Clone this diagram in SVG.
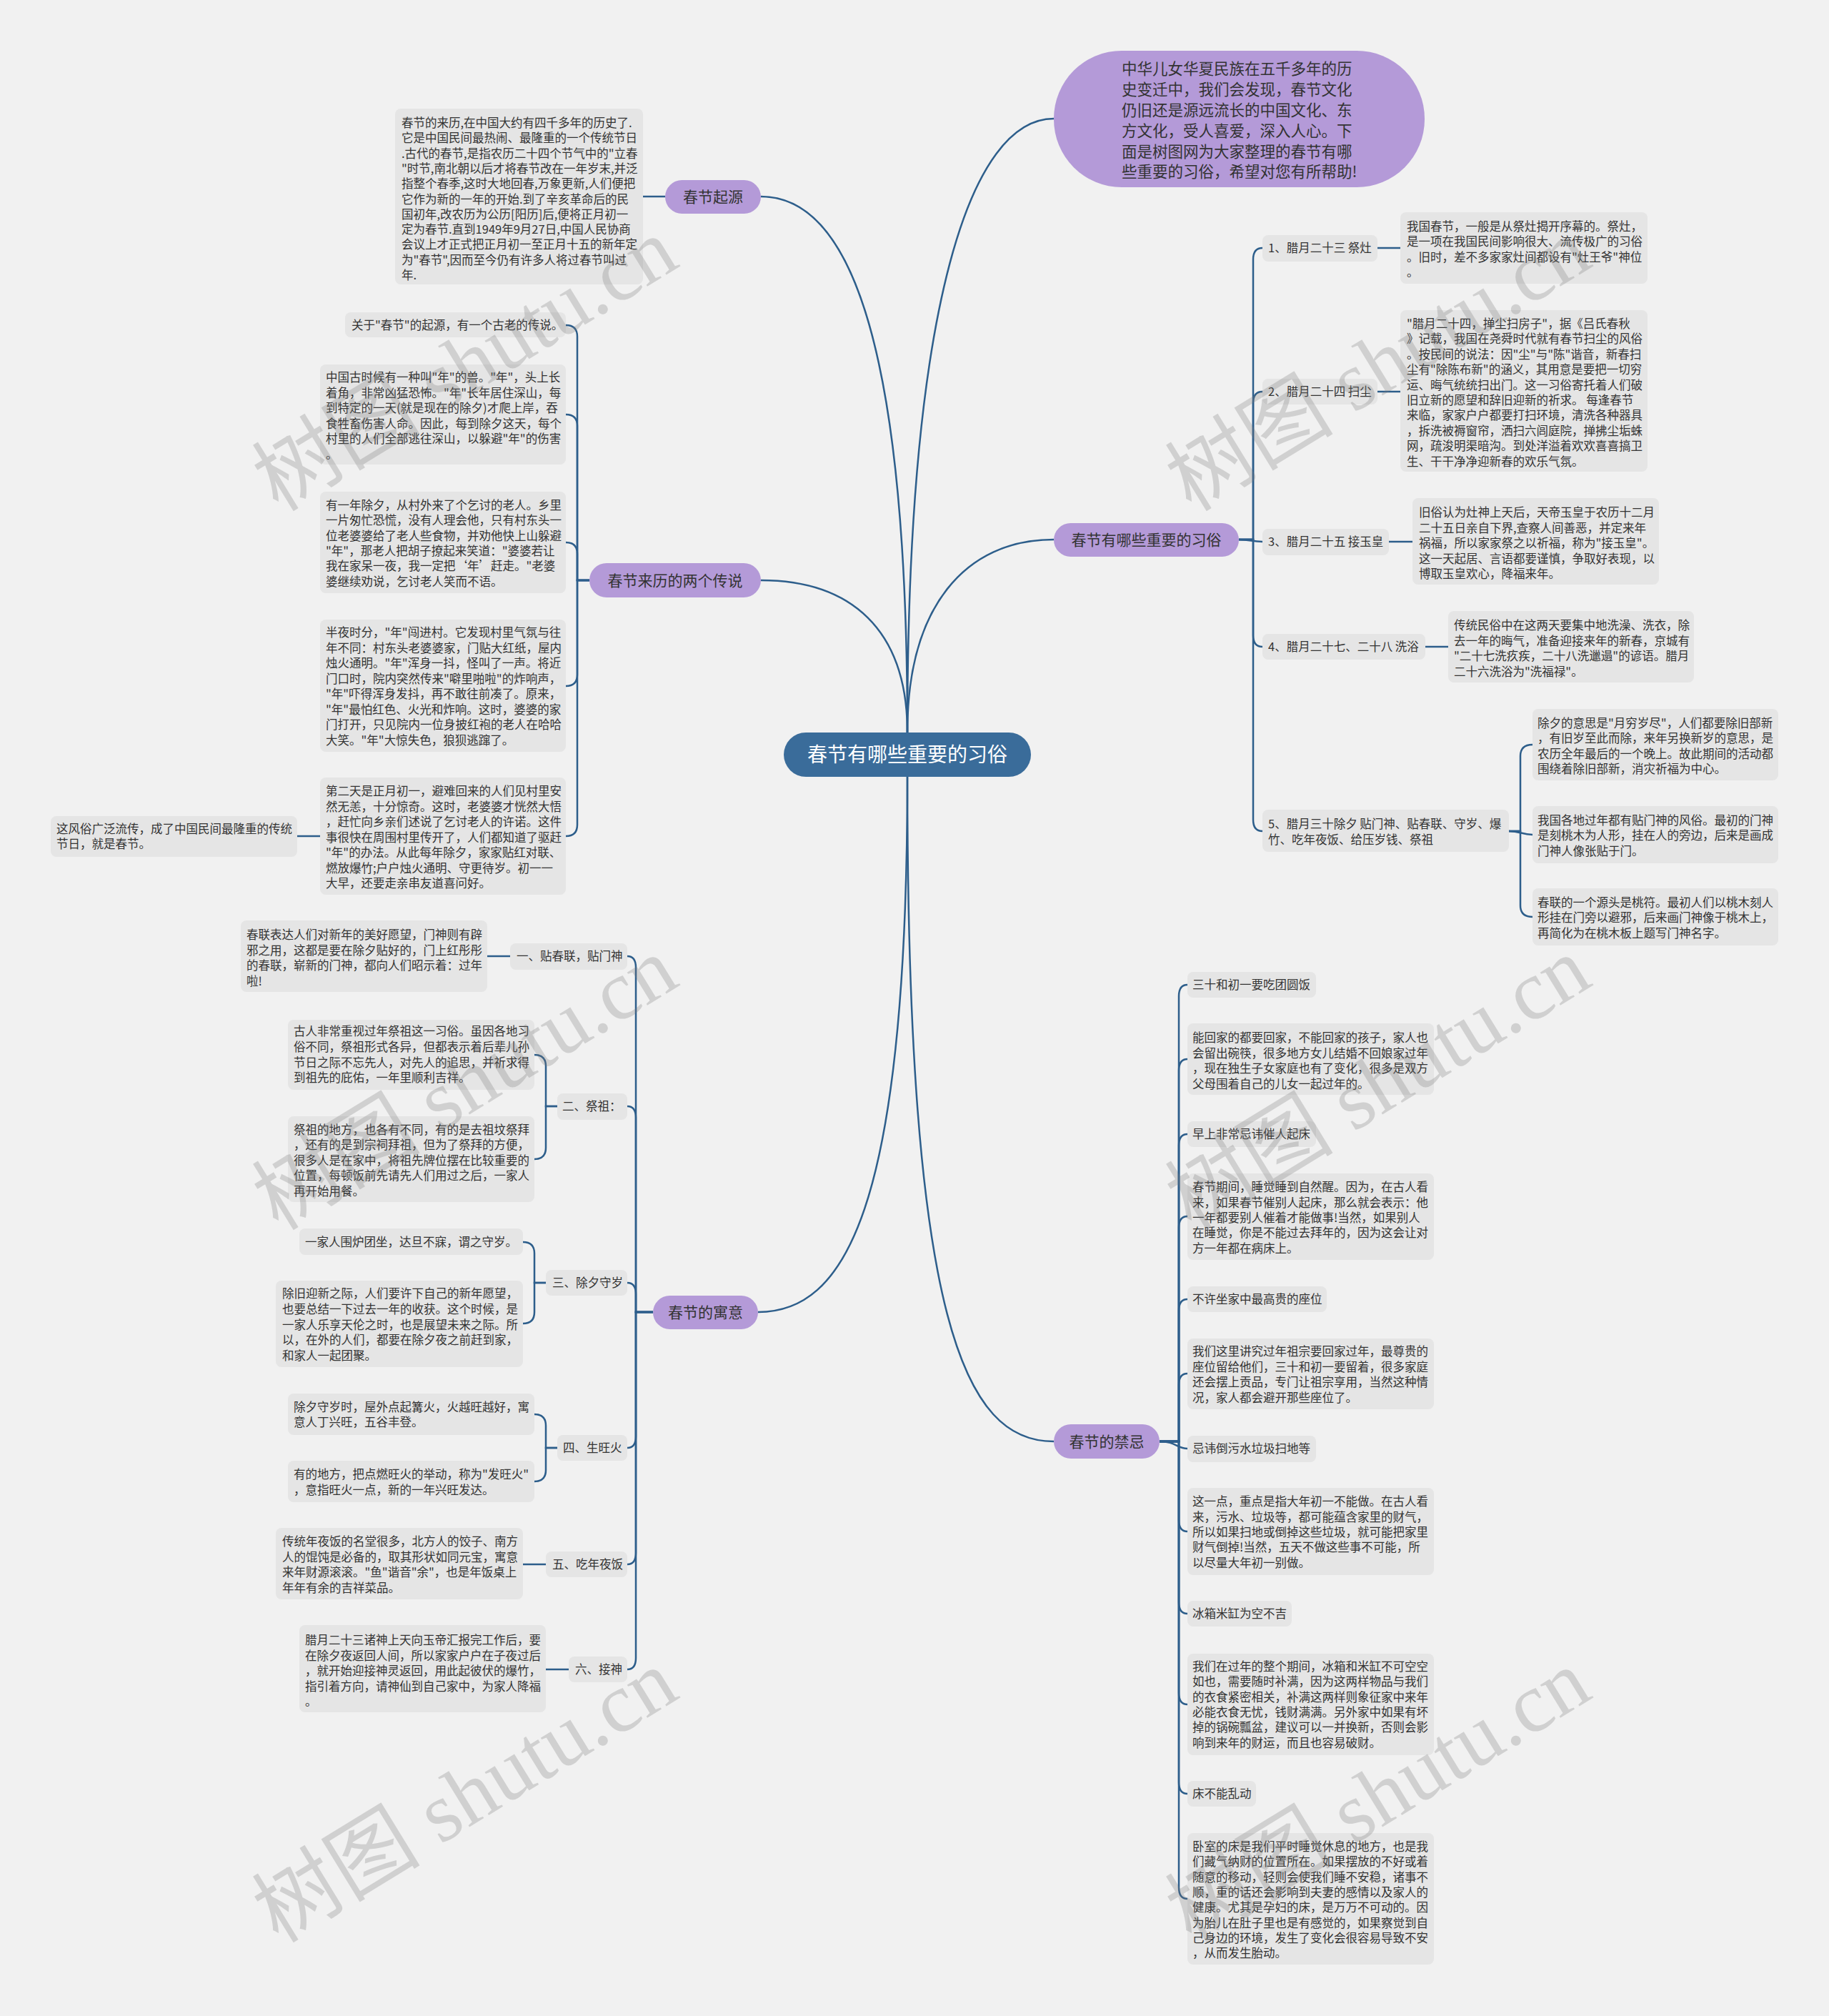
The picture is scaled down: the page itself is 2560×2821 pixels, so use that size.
<svg xmlns="http://www.w3.org/2000/svg" width="2560" height="2821" viewBox="0 0 2560 2821">
<style>
.t{font-family:'Noto Sans CJK SC','Noto Sans',sans-serif;font-size:16.5px;fill:#333}
.box{fill:#e5e5e5}
.br{fill:#b49ad8}
.bt{font-family:'Noto Sans CJK SC','Noto Sans',sans-serif;font-size:21px;fill:#333;text-anchor:middle}
.c{fill:none;stroke:#2d5e8b;stroke-width:2.5}
.wm{font-family:'Liberation Serif','Noto Sans CJK SC',serif;font-size:118px;fill:#7a7a7a;opacity:0.27;text-anchor:middle}
</style>
<rect x="0" y="0" width="2560" height="2821" fill="#f1f1f1"/>
<g id="connectors">
<path class="c" d="M1270,1025 C1270,420 1360,166 1475,166"/>
<path class="c" d="M1270,1025 C1270,450 1180,275 1065,275"/>
<path class="c" d="M1270,1025 C1270,880 1190,812 1065,812"/>
<path class="c" d="M1270,1025 C1270,850 1350,755 1475,755"/>
<path class="c" d="M1270,1087 C1270,1700 1180,1836 1061,1836"/>
<path class="c" d="M1270,1087 C1270,1850 1350,2017 1475,2017"/>
<path class="c" d="M900,275 H931"/>
<path class="c" d="M825,812 H808 V471 Q808,455 792,455"/>
<path class="c" d="M825,812 H808 V596 Q808,580 792,580"/>
<path class="c" d="M825,812 H808 V775 Q808,759 792,759"/>
<path class="c" d="M825,812 H808 V944 Q808,960 792,960"/>
<path class="c" d="M825,812 H808 V1154 Q808,1170 792,1170"/>
<path class="c" d="M448,1170 H416"/>
<path class="c" d="M914,1836 H890 V1354 Q890,1338 878,1338"/>
<path class="c" d="M914,1836 H890 V1564 Q890,1548 878,1548"/>
<path class="c" d="M914,1836 H890 V1811 Q890,1795 878,1795"/>
<path class="c" d="M914,1836 H890 V2010 Q890,2026 878,2026"/>
<path class="c" d="M914,1836 H890 V2173 Q890,2189 878,2189"/>
<path class="c" d="M914,1836 H890 V2320 Q890,2336 878,2336"/>
<path class="c" d="M714,1338 H682"/>
<path class="c" d="M780,1548 H764 V1492 Q764,1476 748,1476"/>
<path class="c" d="M780,1548 H764 V1606 Q764,1622 748,1622"/>
<path class="c" d="M764,1795 H748 V1754 Q748,1738 732,1738"/>
<path class="c" d="M764,1795 H748 V1836 Q748,1852 732,1852"/>
<path class="c" d="M780,2026 H764 V1995 Q764,1979 748,1979"/>
<path class="c" d="M780,2026 H764 V2057 Q764,2073 748,2073"/>
<path class="c" d="M764,2189 H732"/>
<path class="c" d="M796,2336 H764"/>
<path class="c" d="M1734,755 H1754 V363 Q1754,347 1767,347"/>
<path class="c" d="M1734,755 H1754 V564 Q1754,548 1767,548"/>
<path class="c" d="M1734,755 C1750,755 1752,758 1767,758"/>
<path class="c" d="M1734,755 H1754 V889 Q1754,905 1767,905"/>
<path class="c" d="M1734,755 H1754 V1147 Q1754,1163 1767,1163"/>
<path class="c" d="M1928,347 H1960"/>
<path class="c" d="M1928,548 H1960"/>
<path class="c" d="M1944,758 H1977"/>
<path class="c" d="M1995,905 H2027"/>
<path class="c" d="M2112,1163 H2128 V1058 Q2128,1042 2145,1042"/>
<path class="c" d="M2112,1163 C2128,1163 2130,1168 2145,1168"/>
<path class="c" d="M2112,1163 H2128 V1267 Q2128,1283 2145,1283"/>
<path class="c" d="M1623,2017 H1650 V1394 Q1650,1378 1662,1378"/>
<path class="c" d="M1623,2017 H1650 V1498 Q1650,1482 1662,1482"/>
<path class="c" d="M1623,2017 H1650 V1603 Q1650,1587 1662,1587"/>
<path class="c" d="M1623,2017 H1650 V1718 Q1650,1702 1662,1702"/>
<path class="c" d="M1623,2017 H1650 V1834 Q1650,1818 1662,1818"/>
<path class="c" d="M1623,2017 H1650 V1938 Q1650,1922 1662,1922"/>
<path class="c" d="M1623,2017 C1645,2017 1648,2027 1662,2027"/>
<path class="c" d="M1623,2017 H1650 V2127 Q1650,2143 1662,2143"/>
<path class="c" d="M1623,2017 H1650 V2242 Q1650,2258 1662,2258"/>
<path class="c" d="M1623,2017 H1650 V2369 Q1650,2385 1662,2385"/>
<path class="c" d="M1623,2017 H1650 V2494 Q1650,2510 1662,2510"/>
<path class="c" d="M1623,2017 H1650 V2641 Q1650,2657 1662,2657"/>
</g>

<g id="n-root"><rect x="1097" y="1025" width="346" height="62" rx="31" fill="#3a6c9a"/><text x="1270" y="1066" style="font-family:'Noto Sans CJK SC',sans-serif;font-size:28px;fill:#fff;text-anchor:middle">春节有哪些重要的习俗</text></g>

<g id="n-intro"><rect x="1475" y="71" width="519" height="191" rx="95" class="br"/>
<text style="font-family:'Noto Sans CJK SC',sans-serif;font-size:21.5px;fill:#333"><tspan x="1570" y="104">中华儿女华夏民族在五千多年的历</tspan><tspan x="1570" y="133">史变迁中，我们会发现，春节文化</tspan><tspan x="1570" y="162">仍旧还是源远流长的中国文化、东</tspan><tspan x="1570" y="191">方文化，受人喜爱，深入人心。下</tspan><tspan x="1570" y="220">面是树图网为大家整理的春节有哪</tspan><tspan x="1570" y="248">些重要的习俗，希望对您有所帮助!</tspan></text></g>

<g id="n-origin"><rect x="931" y="252" width="134" height="47" rx="23.5" class="br"/><text x="998" y="283" class="bt">春节起源</text></g>
<g id="n-origin-1"><rect x="553" y="152" width="347" height="246" rx="8" class="box"/>
<text class="t"><tspan x="562" y="178">春节的来历,在中国大约有四千多年的历史了.</tspan><tspan x="562" y="199">它是中国民间最热闹、最隆重的一个传统节日</tspan><tspan x="562" y="221">.古代的春节,是指农历二十四个节气中的"立春</tspan><tspan x="562" y="242">"时节,南北朝以后才将春节改在一年岁末,并泛</tspan><tspan x="562" y="263">指整个春季,这时大地回春,万象更新,人们便把</tspan><tspan x="562" y="285">它作为新的一年的开始.到了辛亥革命后的民</tspan><tspan x="562" y="306">国初年,改农历为公历[阳历]后,便将正月初一</tspan><tspan x="562" y="327">定为春节.直到1949年9月27日,中国人民协商</tspan><tspan x="562" y="348">会议上才正式把正月初一至正月十五的新年定</tspan><tspan x="562" y="370">为"春节",因而至今仍有许多人将过春节叫过</tspan><tspan x="562" y="391">年.</tspan></text></g>

<g id="n-legend"><rect x="825" y="788" width="240" height="48" rx="24" class="br"/><text x="945" y="820" class="bt">春节来历的两个传说</text></g>
<g id="n-legend-1"><rect x="483" y="437" width="309" height="35" rx="8" class="box"/><text class="t" x="492" y="461">关于"春节"的起源，有一个古老的传说。</text></g>
<g id="n-legend-2"><rect x="448" y="510" width="344" height="140" rx="8" class="box"/>
<text class="t"><tspan x="456" y="534">中国古时候有一种叫"年"的兽。"年"，头上长</tspan><tspan x="456" y="556">着角，非常凶猛恐怖。"年"长年居住深山，每</tspan><tspan x="456" y="577">到特定的一天(就是现在的除夕)才爬上岸，吞</tspan><tspan x="456" y="599">食牲畜伤害人命。因此，每到除夕这天，每个</tspan><tspan x="456" y="620">村里的人们全部逃往深山，以躲避"年"的伤害</tspan><tspan x="456" y="642">。</tspan></text></g>
<g id="n-legend-3"><rect x="448" y="688" width="344" height="142" rx="8" class="box"/>
<text class="t"><tspan x="456" y="713">有一年除夕，从村外来了个乞讨的老人。乡里</tspan><tspan x="456" y="734">一片匆忙恐慌，没有人理会他，只有村东头一</tspan><tspan x="456" y="756">位老婆婆给了老人些食物，并劝他快上山躲避</tspan><tspan x="456" y="777">"年"，那老人把胡子撩起来笑道："婆婆若让</tspan><tspan x="456" y="798">我在家呆一夜，我一定把‘年’赶走。"老婆</tspan><tspan x="456" y="820">婆继续劝说，乞讨老人笑而不语。</tspan></text></g>
<g id="n-legend-4"><rect x="448" y="867" width="344" height="185" rx="8" class="box"/>
<text class="t"><tspan x="456" y="891">半夜时分，"年"闯进村。它发现村里气氛与往</tspan><tspan x="456" y="913">年不同：村东头老婆婆家，门贴大红纸，屋内</tspan><tspan x="456" y="934">烛火通明。"年"浑身一抖，怪叫了一声。将近</tspan><tspan x="456" y="956">门口时，院内突然传来"噼里啪啦"的炸响声，</tspan><tspan x="456" y="977">"年"吓得浑身发抖，再不敢往前凑了。原来，</tspan><tspan x="456" y="999">"年"最怕红色、火光和炸响。这时，婆婆的家</tspan><tspan x="456" y="1020">门打开，只见院内一位身披红袍的老人在哈哈</tspan><tspan x="456" y="1042">大笑。"年"大惊失色，狼狈逃蹿了。</tspan></text></g>
<g id="n-legend-5"><rect x="448" y="1088" width="344" height="164" rx="8" class="box"/>
<text class="t"><tspan x="456" y="1113">第二天是正月初一，避难回来的人们见村里安</tspan><tspan x="456" y="1135">然无恙，十分惊奇。这时，老婆婆才恍然大悟</tspan><tspan x="456" y="1156">，赶忙向乡亲们述说了乞讨老人的许诺。这件</tspan><tspan x="456" y="1178">事很快在周围村里传开了，人们都知道了驱赶</tspan><tspan x="456" y="1199">"年"的办法。从此每年除夕，家家贴红对联、</tspan><tspan x="456" y="1221">燃放爆竹;户户烛火通明、守更待岁。初一一</tspan><tspan x="456" y="1242">大早，还要走亲串友道喜问好。</tspan></text></g>
<g id="n-legend-6"><rect x="71" y="1142" width="345" height="57" rx="8" class="box"/>
<text class="t"><tspan x="79" y="1166">这风俗广泛流传，成了中国民间最隆重的传统</tspan><tspan x="79" y="1187">节日，就是春节。</tspan></text></g>

<g id="n-meaning"><rect x="914" y="1813" width="147" height="47" rx="23.5" class="br"/><text x="987.5" y="1844" class="bt">春节的寓意</text></g>
<g id="n-m1"><rect x="714" y="1320" width="164" height="37" rx="8" class="box"/><text class="t" x="723" y="1344">一、贴春联，贴门神</text></g>
<g id="n-m1-1"><rect x="337" y="1288" width="345" height="100" rx="8" class="box"/>
<text class="t"><tspan x="345" y="1314">春联表达人们对新年的美好愿望，门神则有辟</tspan><tspan x="345" y="1336">邪之用，这都是要在除夕贴好的，门上红彤彤</tspan><tspan x="345" y="1357">的春联，崭新的门神，都向人们昭示着：过年</tspan><tspan x="345" y="1379">啦!</tspan></text></g>
<g id="n-m2"><rect x="780" y="1530" width="98" height="37" rx="8" class="box"/><text class="t" x="787" y="1554">二、祭祖：</text></g>
<g id="n-m2-1"><rect x="403" y="1427" width="345" height="98" rx="8" class="box"/>
<text class="t"><tspan x="411" y="1449">古人非常重视过年祭祖这一习俗。虽因各地习</tspan><tspan x="411" y="1471">俗不同，祭祖形式各异，但都表示着后辈儿孙</tspan><tspan x="411" y="1493">节日之际不忘先人，对先人的追思，并祈求得</tspan><tspan x="411" y="1514">到祖先的庇佑，一年里顺利吉祥。</tspan></text></g>
<g id="n-m2-2"><rect x="403" y="1562" width="345" height="120" rx="8" class="box"/>
<text class="t"><tspan x="411" y="1587">祭祖的地方，也各有不同，有的是去祖坟祭拜</tspan><tspan x="411" y="1608">，还有的是到宗祠拜祖，但为了祭拜的方便，</tspan><tspan x="411" y="1630">很多人是在家中，将祖先牌位摆在比较重要的</tspan><tspan x="411" y="1651">位置，每顿饭前先请先人们用过之后，一家人</tspan><tspan x="411" y="1673">再开始用餐。</tspan></text></g>
<g id="n-m3"><rect x="764" y="1777" width="114" height="36" rx="8" class="box"/><text class="t" x="773" y="1801">三、除夕守岁</text></g>
<g id="n-m3-1"><rect x="419" y="1719" width="313" height="37" rx="8" class="box"/><text class="t" x="427" y="1744">一家人围炉团坐，达旦不寐，谓之守岁。</text></g>
<g id="n-m3-2"><rect x="386" y="1792" width="346" height="121" rx="8" class="box"/>
<text class="t"><tspan x="395" y="1816">除旧迎新之际，人们要许下自己的新年愿望，</tspan><tspan x="395" y="1838">也要总结一下过去一年的收获。这个时候，是</tspan><tspan x="395" y="1860">一家人乐享天伦之时，也是展望未来之际。所</tspan><tspan x="395" y="1881">以，在外的人们，都要在除夕夜之前赶到家，</tspan><tspan x="395" y="1903">和家人一起团聚。</tspan></text></g>
<g id="n-m4"><rect x="780" y="2008" width="98" height="36" rx="8" class="box"/><text class="t" x="788" y="2032">四、生旺火</text></g>
<g id="n-m4-1"><rect x="403" y="1950" width="345" height="58" rx="8" class="box"/>
<text class="t"><tspan x="411" y="1975">除夕守岁时，屋外点起篝火，火越旺越好，寓</tspan><tspan x="411" y="1996">意人丁兴旺，五谷丰登。</tspan></text></g>
<g id="n-m4-2"><rect x="403" y="2044" width="345" height="58" rx="8" class="box"/>
<text class="t"><tspan x="411" y="2069">有的地方，把点燃旺火的举动，称为"发旺火"</tspan><tspan x="411" y="2091">，意指旺火一点，新的一年兴旺发达。</tspan></text></g>
<g id="n-m5"><rect x="764" y="2171" width="114" height="36" rx="8" class="box"/><text class="t" x="773" y="2195">五、吃年夜饭</text></g>
<g id="n-m5-1"><rect x="386" y="2138" width="346" height="100" rx="8" class="box"/>
<text class="t"><tspan x="395" y="2163">传统年夜饭的名堂很多，北方人的饺子、南方</tspan><tspan x="395" y="2185">人的馄饨是必备的，取其形状如同元宝，寓意</tspan><tspan x="395" y="2206">来年财源滚滚。"鱼"谐音"余"，也是年饭桌上</tspan><tspan x="395" y="2228">年年有余的吉祥菜品。</tspan></text></g>
<g id="n-m6"><rect x="796" y="2318" width="82" height="36" rx="8" class="box"/><text class="t" x="805" y="2342">六、接神</text></g>
<g id="n-m6-1"><rect x="419" y="2274" width="345" height="122" rx="8" class="box"/>
<text class="t"><tspan x="427" y="2301">腊月二十三诸神上天向玉帝汇报完工作后，要</tspan><tspan x="427" y="2323">在除夕夜返回人间，所以家家户户在子夜过后</tspan><tspan x="427" y="2344">，就开始迎接神灵返回，用此起彼伏的爆竹，</tspan><tspan x="427" y="2366">指引着方向，请神仙到自己家中，为家人降福</tspan><tspan x="427" y="2387">。</tspan></text></g>

<g id="n-customs"><rect x="1475" y="732" width="259" height="47" rx="23.5" class="br"/><text x="1604.5" y="763" class="bt">春节有哪些重要的习俗</text></g>
<g id="n-c1"><rect x="1767" y="329" width="161" height="37" rx="8" class="box"/><text class="t" x="1775" y="353">1、腊月二十三 祭灶</text></g>
<g id="n-c1-1"><rect x="1960" y="297" width="346" height="100" rx="8" class="box"/>
<text class="t"><tspan x="1969" y="323">我国春节，一般是从祭灶揭开序幕的。祭灶，</tspan><tspan x="1969" y="344">是一项在我国民间影响很大、流传极广的习俗</tspan><tspan x="1969" y="366">。旧时，差不多家家灶间都设有"灶王爷"神位</tspan><tspan x="1969" y="387">。</tspan></text></g>
<g id="n-c2"><rect x="1767" y="530" width="161" height="36" rx="8" class="box"/><text class="t" x="1775" y="554">2、腊月二十四 扫尘</text></g>
<g id="n-c2-1"><rect x="1960" y="434" width="346" height="226" rx="8" class="box"/>
<text class="t"><tspan x="1969" y="459">"腊月二十四，掸尘扫房子"，据《吕氏春秋</tspan><tspan x="1969" y="480">》记载，我国在尧舜时代就有春节扫尘的风俗</tspan><tspan x="1969" y="502">。按民间的说法：因"尘"与"陈"谐音，新春扫</tspan><tspan x="1969" y="523">尘有"除陈布新"的涵义，其用意是要把一切穷</tspan><tspan x="1969" y="545">运、晦气统统扫出门。这一习俗寄托着人们破</tspan><tspan x="1969" y="566">旧立新的愿望和辞旧迎新的祈求。 每逢春节</tspan><tspan x="1969" y="587">来临，家家户户都要打扫环境，清洗各种器具</tspan><tspan x="1969" y="609">，拆洗被褥窗帘，洒扫六闾庭院，掸拂尘垢蛛</tspan><tspan x="1969" y="630">网，疏浚明渠暗沟。到处洋溢着欢欢喜喜搞卫</tspan><tspan x="1969" y="652">生、干干净净迎新春的欢乐气氛。</tspan></text></g>
<g id="n-c3"><rect x="1767" y="740" width="177" height="37" rx="8" class="box"/><text class="t" x="1775" y="764">3、腊月二十五 接玉皇</text></g>
<g id="n-c3-1"><rect x="1977" y="697" width="345" height="121" rx="8" class="box"/>
<text class="t"><tspan x="1986" y="723">旧俗认为灶神上天后，天帝玉皇于农历十二月</tspan><tspan x="1986" y="745">二十五日亲自下界,查察人间善恶，并定来年</tspan><tspan x="1986" y="766">祸福，所以家家祭之以祈福，称为"接玉皇"。</tspan><tspan x="1986" y="788">这一天起居、言语都要谨慎，争取好表现，以</tspan><tspan x="1986" y="809">博取玉皇欢心，降福来年。</tspan></text></g>
<g id="n-c4"><rect x="1767" y="887" width="228" height="36" rx="8" class="box"/><text class="t" x="1775" y="911">4、腊月二十七、二十八 洗浴</text></g>
<g id="n-c4-1"><rect x="2027" y="855" width="344" height="100" rx="8" class="box"/>
<text class="t"><tspan x="2035" y="881">传统民俗中在这两天要集中地洗澡、洗衣，除</tspan><tspan x="2035" y="903">去一年的晦气，准备迎接来年的新春，京城有</tspan><tspan x="2035" y="924">"二十七洗疚疾，二十八洗邋遢"的谚语。腊月</tspan><tspan x="2035" y="946">二十六洗浴为"洗福禄"。</tspan></text></g>
<g id="n-c5"><rect x="1767" y="1133" width="345" height="59" rx="8" class="box"/>
<text class="t"><tspan x="1775" y="1159">5、腊月三十除夕 贴门神、贴春联、守岁、爆</tspan><tspan x="1775" y="1181">竹、吃年夜饭、给压岁钱、祭祖</tspan></text></g>
<g id="n-c5-1"><rect x="2145" y="992" width="344" height="100" rx="8" class="box"/>
<text class="t"><tspan x="2152" y="1018">除夕的意思是"月穷岁尽"，人们都要除旧部新</tspan><tspan x="2152" y="1039">，有旧岁至此而除，来年另换新岁的意思，是</tspan><tspan x="2152" y="1061">农历全年最后的一个晚上。故此期间的活动都</tspan><tspan x="2152" y="1082">围绕着除旧部新，消灾祈福为中心。</tspan></text></g>
<g id="n-c5-2"><rect x="2145" y="1128" width="344" height="80" rx="8" class="box"/>
<text class="t"><tspan x="2152" y="1154">我国各地过年都有贴门神的风俗。最初的门神</tspan><tspan x="2152" y="1175">是刻桃木为人形，挂在人的旁边，后来是画成</tspan><tspan x="2152" y="1197">门神人像张贴于门。</tspan></text></g>
<g id="n-c5-3"><rect x="2145" y="1243" width="344" height="80" rx="8" class="box"/>
<text class="t"><tspan x="2152" y="1269">春联的一个源头是桃符。最初人们以桃木刻人</tspan><tspan x="2152" y="1290">形挂在门旁以避邪，后来画门神像于桃木上，</tspan><tspan x="2152" y="1312">再简化为在桃木板上题写门神名字。</tspan></text></g>

<g id="n-taboo"><rect x="1475" y="1993" width="148" height="48" rx="24" class="br"/><text x="1549" y="2025" class="bt">春节的禁忌</text></g>
<g id="n-t1"><rect x="1662" y="1360" width="180" height="36" rx="8" class="box"/><text class="t" x="1669" y="1384">三十和初一要吃团圆饭</text></g>
<g id="n-t1-1"><rect x="1662" y="1432" width="345" height="100" rx="8" class="box"/>
<text class="t"><tspan x="1669" y="1458">能回家的都要回家，不能回家的孩子，家人也</tspan><tspan x="1669" y="1480">会留出碗筷，很多地方女儿结婚不回娘家过年</tspan><tspan x="1669" y="1501">，现在独生子女家庭也有了变化，很多是双方</tspan><tspan x="1669" y="1523">父母围着自己的儿女一起过年的。</tspan></text></g>
<g id="n-t2"><rect x="1662" y="1569" width="180" height="36" rx="8" class="box"/><text class="t" x="1669" y="1593">早上非常忌讳催人起床</text></g>
<g id="n-t2-1"><rect x="1662" y="1642" width="345" height="121" rx="8" class="box"/>
<text class="t"><tspan x="1669" y="1667">春节期间，睡觉睡到自然醒。因为，在古人看</tspan><tspan x="1669" y="1689">来，如果春节催别人起床，那么就会表示：他</tspan><tspan x="1669" y="1710">一年都要别人催着才能做事!当然，如果别人</tspan><tspan x="1669" y="1731">在睡觉，你是不能过去拜年的，因为这会让对</tspan><tspan x="1669" y="1753">方一年都在病床上。</tspan></text></g>
<g id="n-t3"><rect x="1662" y="1800" width="195" height="36" rx="8" class="box"/><text class="t" x="1669" y="1824">不许坐家中最高贵的座位</text></g>
<g id="n-t3-1"><rect x="1662" y="1873" width="345" height="99" rx="8" class="box"/>
<text class="t"><tspan x="1669" y="1897">我们这里讲究过年祖宗要回家过年，最尊贵的</tspan><tspan x="1669" y="1919">座位留给他们，三十和初一要留着，很多家庭</tspan><tspan x="1669" y="1940">还会摆上贡品，专门让祖宗享用，当然这种情</tspan><tspan x="1669" y="1962">况，家人都会避开那些座位了。</tspan></text></g>
<g id="n-t4"><rect x="1662" y="2009" width="180" height="37" rx="8" class="box"/><text class="t" x="1669" y="2033">忌讳倒污水垃圾扫地等</text></g>
<g id="n-t4-1"><rect x="1662" y="2082" width="345" height="122" rx="8" class="box"/>
<text class="t"><tspan x="1669" y="2107">这一点，重点是指大年初一不能做。在古人看</tspan><tspan x="1669" y="2129">来，污水、垃圾等，都可能蕴含家里的财气，</tspan><tspan x="1669" y="2150">所以如果扫地或倒掉这些垃圾，就可能把家里</tspan><tspan x="1669" y="2171">财气倒掉!当然，五天不做这些事不可能，所</tspan><tspan x="1669" y="2193">以尽量大年初一别做。</tspan></text></g>
<g id="n-t5"><rect x="1662" y="2240" width="146" height="36" rx="8" class="box"/><text class="t" x="1669" y="2264">冰箱米缸为空不吉</text></g>
<g id="n-t5-1"><rect x="1662" y="2314" width="345" height="142" rx="8" class="box"/>
<text class="t"><tspan x="1669" y="2338">我们在过年的整个期间，冰箱和米缸不可空空</tspan><tspan x="1669" y="2359">如也，需要随时补满，因为这两样物品与我们</tspan><tspan x="1669" y="2381">的衣食紧密相关，补满这两样则象征家中来年</tspan><tspan x="1669" y="2402">必能衣食无忧，钱财满满。另外家中如果有坏</tspan><tspan x="1669" y="2423">掉的锅碗瓢盆，建议可以一并换新，否则会影</tspan><tspan x="1669" y="2445">响到来年的财运，而且也容易破财。</tspan></text></g>
<g id="n-t6"><rect x="1662" y="2492" width="96" height="36" rx="8" class="box"/><text class="t" x="1669" y="2516">床不能乱动</text></g>
<g id="n-t6-1"><rect x="1662" y="2565" width="345" height="184" rx="8" class="box"/>
<text class="t"><tspan x="1669" y="2590">卧室的床是我们平时睡觉休息的地方，也是我</tspan><tspan x="1669" y="2611">们藏气纳财的位置所在。如果摆放的不好或着</tspan><tspan x="1669" y="2633">随意的移动，轻则会使我们睡不安稳，诸事不</tspan><tspan x="1669" y="2654">顺，重的话还会影响到夫妻的感情以及家人的</tspan><tspan x="1669" y="2675">健康。尤其是孕妇的床，是万万不可动的。因</tspan><tspan x="1669" y="2697">为胎儿在肚子里也是有感觉的，如果察觉到自</tspan><tspan x="1669" y="2718">己身边的环境，发生了变化会很容易导致不安</tspan><tspan x="1669" y="2739">，从而发生胎动。</tspan></text></g>

<g id="watermarks">
<text class="wm" transform="translate(652,512) rotate(-31.5)" x="0" y="38">树图 shutu.cn</text>
<text class="wm" transform="translate(1930,512) rotate(-31.5)" x="0" y="38">树图 shutu.cn</text>
<text class="wm" transform="translate(652,1518) rotate(-31.5)" x="0" y="38">树图 shutu.cn</text>
<text class="wm" transform="translate(1930,1518) rotate(-31.5)" x="0" y="38">树图 shutu.cn</text>
<text class="wm" transform="translate(652,2515) rotate(-31.5)" x="0" y="38">树图 shutu.cn</text>
<text class="wm" transform="translate(1930,2515) rotate(-31.5)" x="0" y="38">树图 shutu.cn</text>
</g>
</svg>
